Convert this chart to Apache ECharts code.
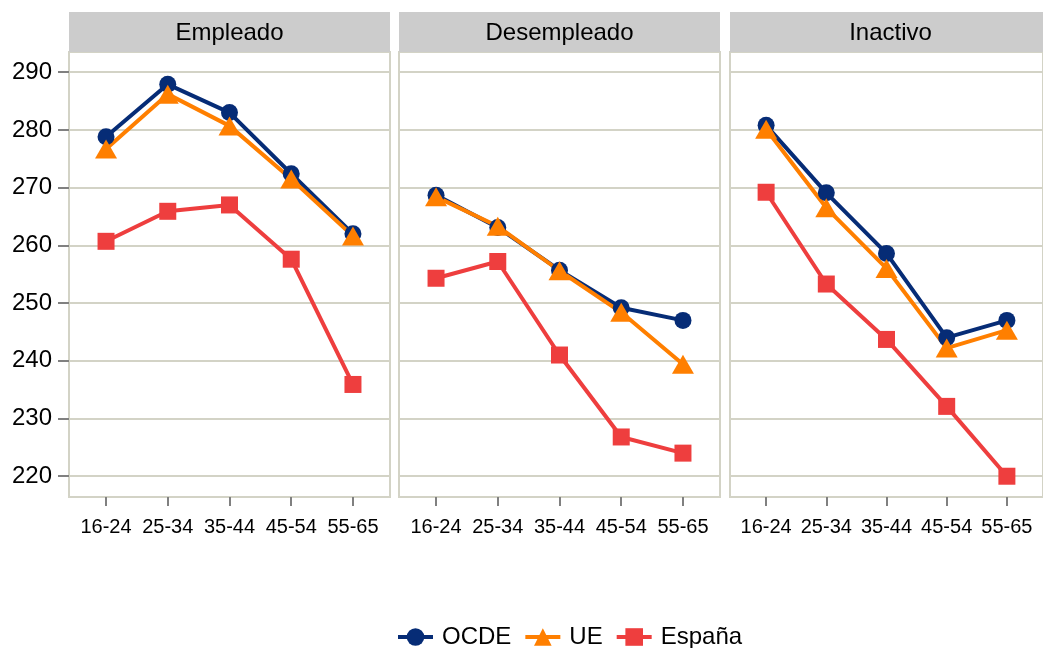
<!DOCTYPE html>
<html lang="es">
<head>
  <meta charset="UTF-8">
  <title>Competencias por situación laboral y edad</title>
  <style>
    html, body { margin: 0; padding: 0; background: #fff; }
    #main { width: 1043px; height: 648px; }
  </style>
</head>
<body>
  <div id="main"></div>
  <script src="https://cdn.jsdelivr.net/npm/echarts@6/dist/echarts.min.js"></script>
  <script>
    var myChart = echarts.init(document.getElementById("main"));

    // datos
    var categories = ["16-24", "25-34", "35-44", "45-54", "55-65"];
    var panels = ["Empleado", "Desempleado", "Inactivo"];
    var yTicks = [220, 230, 240, 250, 260, 270, 280, 290];

    var ocdeEmpleado = [278.8, 287.9, 283.0, 272.4, 262.0];
    var ueEmpleado = [276.7, 286.2, 280.7, 271.5, 261.6];
    var espEmpleado = [260.7, 265.9, 267.0, 257.6, 235.9];

    var ocdeDesempleado = [268.7, 263.1, 255.7, 249.2, 247.0];
    var ueDesempleado = [268.4, 263.3, 255.6, 248.4, 239.4];
    var espDesempleado = [254.3, 257.2, 241.0, 226.8, 224.0];

    var ocdeInactivo = [280.8, 269.1, 258.6, 244.0, 247.0];
    var ueInactivo = [280.1, 266.5, 256.0, 242.2, 245.3];
    var espInactivo = [269.2, 253.3, 243.7, 232.1, 220.0];

    var seriesDefs = [
      { name: "OCDE", color: "#062c76", symbol: "circle", size: 17, data: [ocdeEmpleado, ocdeDesempleado, ocdeInactivo] },
      { name: "UE", color: "#ff7f00", symbol: "triangle", size: [22, 19], data: [ueEmpleado, ueDesempleado, ueInactivo] },
      { name: "España", color: "#ee3e3e", symbol: "rect", size: 17, data: [espEmpleado, espDesempleado, espInactivo] }
    ];

    var gridLefts = [69, 399, 730];
    var panelW = 321;
    var font = "'Liberation Sans', Arial, sans-serif";
    var borderCol = "#d3d3c6";

    var grids = [], xAxes = [], yAxes = [], series = [], graphics = [];
    var idx = [0, 1, 2, 3, 4];

    for (var p = 0; p < 3; p++) {
      grids.push({
        left: gridLefts[p], top: 52, width: panelW, height: 445,
        show: true, borderColor: borderCol, borderWidth: 2, backgroundColor: "#fff"
      });
      xAxes.push({
        type: "value", gridIndex: p, min: -0.6, max: 4.6,
        axisLine: { show: false, onZero: false },
        splitLine: { show: false },
        axisTick: { show: true, customValues: idx, length: 9, lineStyle: { color: "#808080", width: 2 } },
        axisLabel: {
          customValues: idx, margin: 20, fontSize: 20, color: "#000", fontFamily: font,
          formatter: function (v) { return categories[Math.round(v)]; }
        }
      });
      yAxes.push({
        type: "value", gridIndex: p, min: 216.4, max: 293.5,
        axisLine: { show: false, onZero: false },
        splitLine: { show: true, lineStyle: { color: borderCol, width: 2 } },
        axisTick: { show: p === 0, customValues: yTicks, length: 11, lineStyle: { color: "#808080", width: 2 } },
        axisLabel: { show: p === 0, customValues: yTicks, margin: 17, fontSize: 24, color: "#000", fontFamily: font }
      });
      graphics.push({
        type: "rect", left: gridLefts[p], top: 12,
        shape: { width: panelW, height: 40 },
        style: { fill: "#cccccc" }
      });
      graphics.push({
        type: "text", x: gridLefts[p] + panelW / 2, y: 33,
        style: { text: panels[p], fill: "#000", font: "24px " + font, textAlign: "center", textVerticalAlign: "middle" }
      });

      seriesDefs.forEach(function (s) {
        series.push({
          name: s.name, type: "line", xAxisIndex: p, yAxisIndex: p,
          data: s.data[p].map(function (v, i) { return [i, v]; }),
          symbol: s.symbol, symbolSize: s.size, showAllSymbol: true,
          lineStyle: { color: s.color, width: 4 },
          itemStyle: { color: s.color },
          emphasis: { disabled: true },
          animation: false
        });
      });
    }

    var option = {
      backgroundColor: "#fff",
      animation: false,
      textStyle: { fontFamily: font },
      grid: grids,
      xAxis: xAxes,
      yAxis: yAxes,
      series: series,
      graphic: graphics,
      legend: {
        data: ["OCDE", "UE", "España"],
        left: 396, top: 625, padding: 0,
        itemWidth: 35, itemHeight: 22, itemGap: 12,
        lineStyle: { width: 4 },
        textStyle: { fontSize: 24, color: "#000", fontFamily: font, padding: [0, 0, 0, 4] }
      }
    };

    myChart.setOption(option);
  </script>
</body>
</html>
